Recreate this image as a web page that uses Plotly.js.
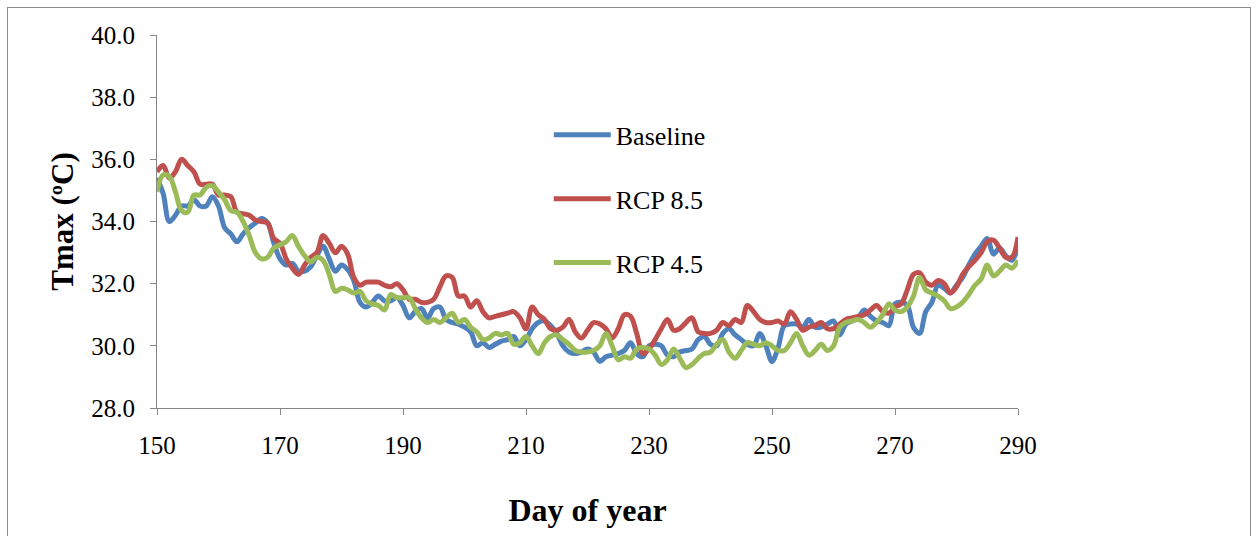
<!DOCTYPE html>
<html>
<head>
<meta charset="utf-8">
<script src="https://cdn.plot.ly/plotly-3.0.1.min.js"></script>
<style>
  html, body { margin: 0; padding: 0; background: #ffffff; }
  #chart { position: absolute; left: 0; top: 0; width: 1257px; height: 536px; }
  #frame { position: absolute; left: 7px; top: 7px; width: 1242px; height: 540px;
           border: 1px solid #8c8c8c; pointer-events: none; }
</style>
</head>
<body>
<div id="chart"></div>
<div id="frame"></div>
<script>
// Day of year 150..290 (daily)
const startDay = 150;
const endDay = 290;

const baseline = [
  35.4, 34.9, 34.0, 34.2, 34.5, 34.5, 34.7, 34.5, 34.5, 34.8,
  34.5, 33.8, 33.6, 33.35, 33.6, 33.8, 33.95, 34.1, 33.95, 33.3,
  32.8, 32.6, 32.65, 32.4, 32.4, 32.55, 32.9, 33.2, 32.8, 32.4,
  32.6, 32.45, 32.1, 31.4, 31.25, 31.4, 31.6, 31.45, 31.45, 31.55,
  31.3, 30.9, 31.1, 31.2, 30.9, 31.2, 31.25, 30.85, 30.75, 30.7,
  30.6, 30.45, 30.0, 30.1, 29.95, 30.05, 30.15, 30.2, 30.3, 30.0,
  30.2, 30.55, 30.75, 30.8, 30.65, 30.4, 30.0, 29.8, 29.75, 29.8,
  29.9, 29.8, 29.5, 29.65, 29.7, 29.75, 29.85, 30.1, 29.75, 29.65,
  30.0, 30.05, 30.0, 29.7, 29.65, 29.8, 29.85, 29.9, 30.2, 30.3,
  30.05, 30.0, 30.4, 30.55, 30.35, 30.2, 30.05, 30.0, 30.4, 30.0,
  29.5, 29.95, 30.65, 30.7, 30.7, 30.6, 30.85, 30.6, 30.6, 30.7,
  30.8, 30.35, 30.7, 30.8, 30.9, 31.15, 30.95, 30.8, 30.75, 30.65,
  31.35, 31.4, 31.3, 30.6, 30.4, 31.1, 31.4, 31.95, 31.85, 31.7,
  31.95, 32.2, 32.6, 32.95, 33.2, 33.45, 32.95, 33.15, 32.9, 32.75,
  33.2
];

const rcp85 = [
  35.6, 35.8, 35.4, 35.6, 36.0, 35.8, 35.6, 35.2, 35.2, 35.2,
  34.85, 34.85, 34.8, 34.3, 34.25, 34.2, 34.05, 34.0, 33.95, 33.45,
  33.3, 32.8, 32.5, 32.3, 32.6, 32.85, 33.0, 33.55, 33.3, 33.0,
  33.2, 32.95, 32.2, 31.95, 32.05, 32.05, 32.05, 31.95, 31.9, 32.0,
  31.8, 31.5, 31.5, 31.4, 31.4, 31.5, 31.9, 32.25, 32.2, 31.6,
  31.6, 31.25, 31.45, 31.1, 30.9, 30.95, 31.0, 31.05, 31.1, 30.9,
  30.55, 31.25, 31.0, 30.85, 30.55, 30.5, 30.6, 30.85, 30.45, 30.25,
  30.5, 30.75, 30.7, 30.55, 30.25, 30.55, 31.0, 30.95, 30.4, 29.75,
  29.9, 30.2, 30.55, 30.85, 30.5, 30.55, 30.75, 30.9, 30.45, 30.4,
  30.4, 30.5, 30.75, 30.65, 30.85, 30.75, 31.3, 31.1, 30.85, 30.75,
  30.75, 30.8, 30.7, 31.1, 30.85, 30.5, 30.6, 30.65, 30.75, 30.55,
  30.55, 30.7, 30.85, 30.9, 30.95, 31.0, 31.15, 31.3, 31.1, 31.05,
  31.25, 31.35, 31.8, 32.3, 32.35, 32.05, 31.95, 32.1, 32.0, 31.7,
  31.9, 32.3, 32.55, 32.75, 33.0, 33.35, 33.4, 33.15, 32.85, 32.85,
  33.5
];

const rcp45 = [
  34.95, 35.5, 35.45, 34.95, 34.35, 34.3, 34.85, 34.85, 35.1, 35.15,
  34.95, 34.7, 34.35, 34.3, 34.0, 33.55, 33.0, 32.8, 32.85, 33.15,
  33.25, 33.35, 33.55, 33.2, 32.9, 32.7, 32.85, 32.75, 32.3, 31.75,
  31.85, 31.8, 31.7, 31.75, 31.45, 31.35, 31.3, 31.15, 31.65, 31.55,
  31.55, 31.55, 31.2, 30.9, 30.75, 30.85, 30.75, 30.9, 31.05, 30.75,
  30.85, 30.6, 30.45, 30.2, 30.25, 30.4, 30.35, 30.4, 30.05, 30.1,
  30.3, 30.0, 29.75, 30.1, 30.3, 30.35, 30.2, 30.05, 29.85, 29.8,
  29.8, 29.85, 30.0, 30.4, 30.0, 29.55, 29.65, 29.6, 29.9, 29.95,
  29.9, 29.7, 29.4, 29.55, 29.9, 29.6, 29.3, 29.4, 29.6, 29.75,
  29.8, 30.05, 30.2, 29.8, 29.6, 29.85, 30.1, 30.05, 30.0, 30.1,
  30.0, 29.85, 29.85, 30.1, 30.4, 30.0, 29.7, 29.85, 30.05, 29.85,
  30.0, 30.6, 30.75, 30.8, 30.85, 30.75, 30.6, 30.75, 31.0, 31.35,
  31.15, 31.1, 31.25, 31.6, 32.2, 31.8, 31.7, 31.6, 31.45, 31.2,
  31.25, 31.4, 31.65, 31.95, 32.15, 32.6, 32.25, 32.4, 32.6, 32.5,
  32.75
];

const seriesNames = ["Baseline", "RCP 8.5", "RCP 4.5"];
const seriesColors = ["#4F81BD", "#C0504D", "#9BBB59"];
const xTickVals = [150, 170, 190, 210, 230, 250, 270, 290];
const yTickVals = [28, 30, 32, 34, 36, 38, 40];

const days = [];
for (let d = startDay; d <= endDay; d++) days.push(d);

const seriesData = [baseline, rcp85, rcp45];
const traces = seriesData.map((vals, i) => ({
  type: "scatter",
  mode: "lines",
  x: days,
  y: vals,
  name: seriesNames[i],
  legendgroup: "g" + i,
  line: { color: seriesColors[i], width: 5, shape: "spline", smoothing: 1 }
}));

const serif = "'Liberation Serif', 'Times New Roman', serif";

const layout = {
  width: 1257,
  height: 536,
  margin: { l: 157, r: 239, t: 35, b: 128 },
  paper_bgcolor: "#ffffff",
  plot_bgcolor: "#ffffff",
  font: { family: serif, size: 25, color: "#000000" },
  showlegend: true,
  legend: {
    x: 0.455, y: 0.795, xanchor: "left", yanchor: "top",
    bgcolor: "rgba(0,0,0,0)",
    font: { family: serif, size: 26, color: "#000000" },
    traceorder: "grouped",
    tracegroupgap: 27,
    itemwidth: 57
  },
  xaxis: {
    range: [150, 290],
    tickvals: xTickVals,
    ticktext: xTickVals.map(String),
    showgrid: false,
    zeroline: false,
    showline: true,
    linecolor: "#868686",
    linewidth: 1,
    ticks: "outside",
    ticklen: 6,
    tickcolor: "#868686",
    ticklabelstandoff: 9,
    tickfont: { family: serif, size: 25, color: "#000000" },
    title: { text: "<b>Day of year</b>", font: { family: serif, size: 32, color: "#000000" }, standoff: 40 }
  },
  yaxis: {
    range: [28, 40],
    tickvals: yTickVals,
    ticktext: yTickVals.map(v => v.toFixed(1)),
    showgrid: false,
    zeroline: false,
    showline: true,
    linecolor: "#868686",
    linewidth: 1,
    ticks: "outside",
    ticklen: 6,
    tickcolor: "#868686",
    ticklabelstandoff: 10,
    tickfont: { family: serif, size: 25, color: "#000000" },
    title: { text: "<b>Tmax (ºC)</b>", font: { family: serif, size: 31, color: "#000000" }, standoff: 8 }
  }
};

Plotly.newPlot("chart", traces, layout, { displayModeBar: false, staticPlot: true });
</script>
</body>
</html>
